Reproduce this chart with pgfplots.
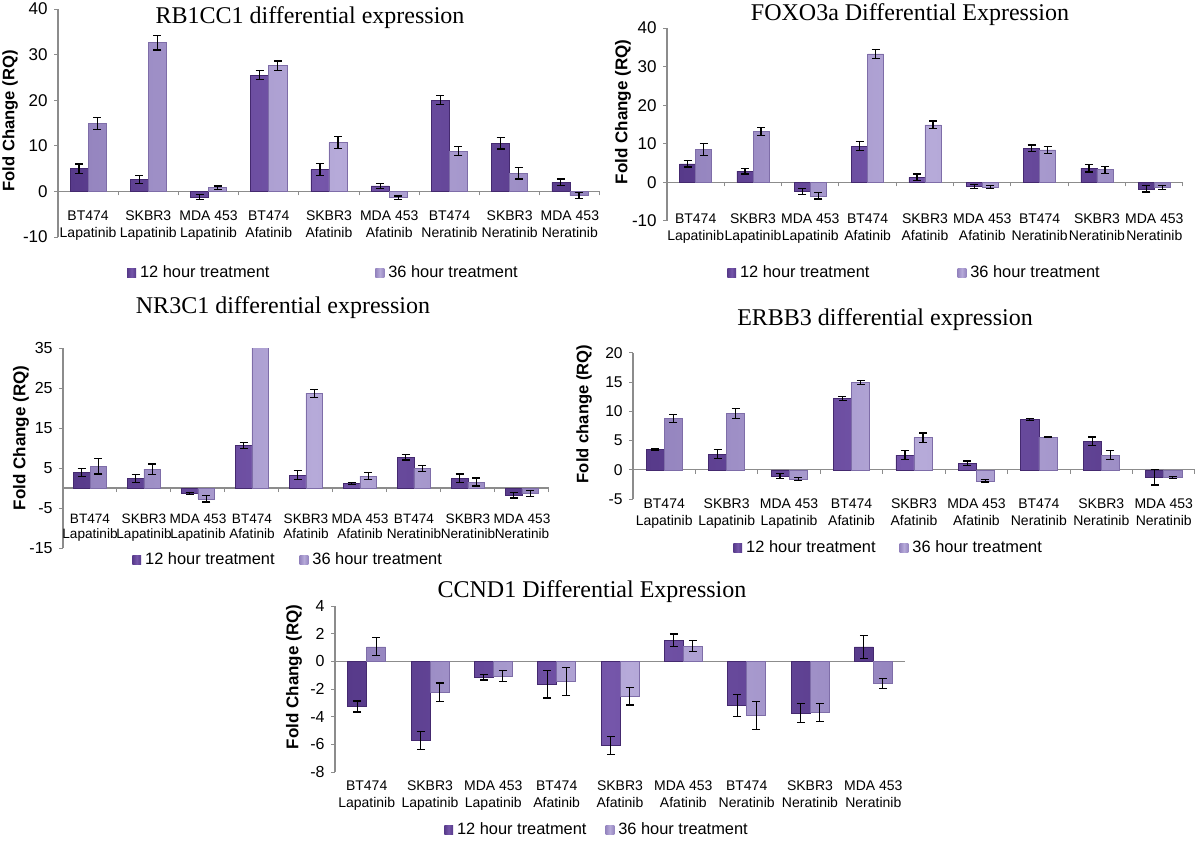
\documentclass[border=0pt]{standalone}
\usepackage{fontspec}
\setmainfont{Liberation Sans}
\newfontfamily\timesf{Liberation Serif}
\usepackage{pgfplots}
\usepackage{pgfplotstable}
\pgfplotsset{compat=1.18}

\definecolor{dkA}{HTML}{573A8A}
\definecolor{dkB}{HTML}{7556AA}
\definecolor{dkE}{HTML}{44296F}
\definecolor{ltA}{HTML}{9585BF}
\definecolor{ltB}{HTML}{B6AAD9}
\definecolor{ltE}{HTML}{7E6DA8}
\definecolor{axgray}{HTML}{8C8C8C}

% x  a = 12 h, ea = error, b = 36 h, eb = error
\pgfplotstableread{
x a ea b eb
0 5.0 1.0 14.9 1.3
1 2.6 0.8 32.6 1.6
2 -1.2 0.6 0.8 0.4
3 25.5 1.0 27.6 1.0
4 4.8 1.3 10.7 1.3
5 1.2 0.5 -1.4 0.4
6 20.0 1.0 8.8 1.0
7 10.6 1.3 4.0 1.3
8 2.0 0.7 -0.9 0.6
}\rbtab
\pgfplotstableread{
x a ea b eb
0 4.8 0.8 8.5 1.6
1 2.9 0.7 13.2 1.1
2 -2.3 0.8 -3.5 0.8
3 9.4 1.1 33.3 1.1
4 1.3 0.9 14.9 1.0
5 -1.1 0.5 -1.2 0.3
6 8.9 0.8 8.4 0.9
7 3.7 1.0 3.3 0.9
8 -1.7 0.8 -1.3 0.5
}\foxtab
\pgfplotstableread{
x a ea b eb
0 3.9 1.0 5.4 1.9
1 2.4 1.0 4.7 1.3
2 -1.35 0.3 -2.7 0.8
3 10.6 0.8 40 0
4 3.2 1.1 23.7 1.0
5 1.1 0.2 3.0 0.8
6 7.7 0.7 4.9 0.8
7 2.4 1.1 1.5 1.0
8 -1.8 0.7 -1.4 0.7
}\nrtab
\pgfplotstableread{
x a ea b eb
0 3.45 0.1 8.8 0.7
1 2.7 0.8 9.65 0.8
2 -1.1 0.4 -1.6 0.3
3 12.2 0.3 15.0 0.35
4 2.5 0.8 5.5 0.8
5 1.1 0.4 -1.9 0.2
6 8.6 0.15 5.6 0.1
7 4.9 0.7 2.5 0.8
8 -1.3 1.3 -1.3 0.15
}\ertab
\pgfplotstableread{
x a ea b eb
0 -3.26 0.4 1.05 0.65
1 -5.7 0.65 -2.23 0.67
2 -1.15 0.2 -1.05 0.4
3 -1.65 1.0 -1.46 1.0
4 -6.07 0.66 -2.52 0.63
5 1.53 0.45 1.1 0.4
6 -3.19 0.77 -3.9 1.0
7 -3.74 0.7 -3.69 0.64
8 1.05 0.82 -1.6 0.35
}\cctab

\pgfplotsset{
  exprbars/.style={
    scale only axis,
    ybar=0pt, bar width=0.3,
    xmin=-0.5, xmax=8.5,
    axis x line=middle, axis y line=left,
    axis line style={-, draw=axgray, line width=0.6pt},
    hide obscured x ticks=false, hide obscured y ticks=false,
    xtick={0,...,8},
    xticklabels={{BT474\\Lapatinib},{SKBR3\\Lapatinib},{MDA 453\\Lapatinib},
      {BT474\\Afatinib},{SKBR3\\Afatinib},{MDA 453\\Afatinib},
      {BT474\\Neratinib},{SKBR3\\Neratinib},{MDA 453\\Neratinib}},
    major x tick style={draw=none},
    minor xtick={-0.5,0.5,...,8.5},
    minor x tick style={draw=axgray, line width=0.5pt},
    minor tick length=2pt, major tick length=2pt,
    tick align=outside,
    y tick style={draw=axgray, line width=0.5pt},
    scaled y ticks=false,
    /pgf/number format/assume math mode=true,
    xticklabel style={align=center, anchor=north, inner sep=0pt,
      font=\fontsize{7}{8.5}\selectfont},
    yticklabel style={anchor=east, inner sep=0pt, xshift=-3pt,
      font=\fontsize{8.5}{10}\selectfont},
    legend style={draw=none, fill=none, inner sep=0pt, legend columns=2,
      cells={anchor=west}, font=\fontsize{8.2}{9.5}\selectfont},
    legend image code/.code={\path[##1, draw=none] (0pt,-2.2pt) rectangle (4.4pt,2.2pt);},
  },
  dk/.style={draw=dkE, line width=0.3pt, left color=dkA, right color=dkA, middle color=dkB},
  lt/.style={draw=ltE, line width=0.3pt, left color=ltA, right color=ltA, middle color=ltB},
  ebar/.style={error bars/.cd, y dir=both, y explicit,
    error bar style={black, line width=0.6pt},
    error mark options={black, rotate=90, mark size=2pt, line width=0.6pt}},
}

\begin{document}
\begin{tikzpicture}
\path[use as bounding box] (0,0) rectangle (600pt,-422.5pt);

% RB1CC1
\begin{axis}[exprbars, at={(29pt,-118.5pt)}, anchor=south west,
  width=271pt, height=114pt, ymin=-10, ymax=40, ytick={-10,0,...,40},
  xticklabel style={yshift=-7.5pt},
  legend style={at={(0.127,-0.158)}, anchor=west,
    /tikz/every even column/.append style={column sep=51pt}}]
\addplot[dk, ebar] table[x=x, y=a, y error=ea] {\rbtab};
\addplot[lt, ebar] table[x=x, y=b, y error=eb] {\rbtab};
\legend{12 hour treatment, 36 hour treatment}
\end{axis}
\node[font=\timesf\fontsize{12}{14}\selectfont] at (155pt,-9pt) {RB1CC1 differential expression};
\node[rotate=90, font=\bfseries\fontsize{8.3}{10}\selectfont] at (5pt,-60.5pt) {Fold Change (RQ)};

% FOXO3a
\begin{axis}[exprbars, at={(333.5pt,-110.5pt)}, anchor=south west,
  width=258pt, height=96.5pt, ymin=-10, ymax=40, ytick={-10,0,...,40},
  bar width=0.28,
  xticklabel style={yshift=-13.5pt},
  legend style={at={(0.116,-0.269)}, anchor=west,
    /tikz/every even column/.append style={column sep=42pt}}]
\addplot[dk, ebar] table[x=x, y=a, y error=ea] {\foxtab};
\addplot[lt, ebar] table[x=x, y=b, y error=eb] {\foxtab};
\legend{12 hour treatment, 36 hour treatment}
\end{axis}
\node[font=\timesf\fontsize{12}{14}\selectfont] at (455pt,-7.5pt) {FOXO3a Differential Expression};
\node[rotate=90, font=\bfseries\fontsize{8.5}{10}\selectfont] at (311.5pt,-56pt) {Fold Change (RQ)};

% NR3C1
\begin{axis}[exprbars, at={(31.5pt,-274pt)}, anchor=south west,
  width=243pt, height=100pt, ymin=-15, ymax=35, ytick={-15,-5,...,35},
  bar width=0.31,
  xticklabel style={yshift=-11pt, font=\fontsize{6.8}{7.5}\selectfont},
  yticklabel style={font=\fontsize{8}{10}\selectfont},
  legend style={at={(0.142,-0.06)}, anchor=west,
    /tikz/every even column/.append style={column sep=10.5pt}}]
\addplot[dk, ebar] table[x=x, y=a, y error=ea] {\nrtab};
\addplot[lt, ebar] table[x=x, y=b, y error=eb] {\nrtab};
\legend{12 hour treatment, 36 hour treatment}
\end{axis}
\node[font=\timesf\fontsize{12}{14}\selectfont] at (141.5pt,-154pt) {NR3C1 differential expression};
\node[rotate=90, font=\bfseries\fontsize{8.5}{10}\selectfont] at (10.5pt,-219pt) {Fold Change (RQ)};

% ERBB3
\begin{axis}[exprbars, at={(316.5pt,-249.5pt)}, anchor=south west,
  width=281pt, height=73pt, ymin=-5, ymax=20, ytick={-5,0,...,20},
  bar width=0.29,
  xticklabel style={yshift=-12.5pt},
  yticklabel style={font=\fontsize{7.8}{10}\selectfont},
  legend style={at={(0.178,-0.336)}, anchor=west,
    /tikz/every even column/.append style={column sep=10pt}}]
\addplot[dk, ebar] table[x=x, y=a, y error=ea] {\ertab};
\addplot[lt, ebar] table[x=x, y=b, y error=eb] {\ertab};
\legend{12 hour treatment, 36 hour treatment}
\end{axis}
\node[font=\timesf\fontsize{12}{14}\selectfont] at (442.5pt,-160pt) {ERBB3 differential expression};
\node[rotate=90, font=\bfseries\fontsize{8.3}{10}\selectfont] at (292pt,-207pt) {Fold change (RQ)};

% CCND1
\begin{axis}[exprbars, at={(167.5pt,-386pt)}, anchor=south west,
  width=285pt, height=83pt, ymin=-8, ymax=4, ytick={-8,-6,...,4},
  axis x line=bottom, x axis line style={draw=none},
  minor x tick style={draw=none},
  extra y ticks={0}, extra y tick labels={},
  extra y tick style={grid=major, major grid style={draw=axgray, line width=0.6pt},
    major tick length=0pt},
  xticklabel style={yshift=-3pt},
  yticklabel style={font=\fontsize{8}{10}\selectfont},
  legend style={at={(0.191,-0.35)}, anchor=west,
    /tikz/every even column/.append style={column sep=7.5pt}}]
\addplot[dk, ebar] table[x=x, y=a, y error=ea] {\cctab};
\addplot[lt, ebar] table[x=x, y=b, y error=eb] {\cctab};
\legend{12 hour treatment, 36 hour treatment}
\end{axis}
\node[font=\timesf\fontsize{12}{14}\selectfont] at (296pt,-296pt) {CCND1 Differential Expression};
\node[rotate=90, font=\bfseries\fontsize{8.5}{10}\selectfont] at (147pt,-338.5pt) {Fold Change (RQ)};
\end{tikzpicture}
\end{document}
